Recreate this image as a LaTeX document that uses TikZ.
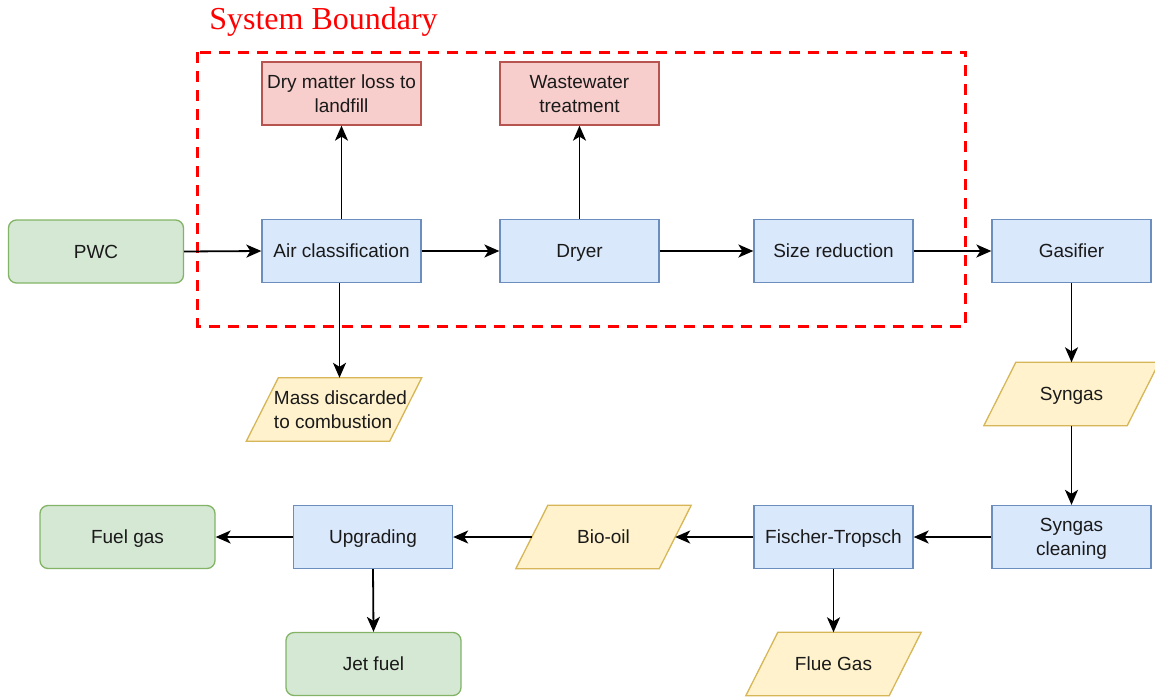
\documentclass[tikz,border=0pt]{standalone}
\usepackage{fontspec}
\setmainfont{Liberation Sans}
\newfontfamily\boundaryfont{Liberation Serif}
\usetikzlibrary{arrows.meta,backgrounds}

\definecolor{procFill}{HTML}{DAE8FC}
\definecolor{procLine}{HTML}{6C8EBF}
\definecolor{lossFill}{HTML}{F8CECC}
\definecolor{lossLine}{HTML}{B85450}
\definecolor{prodFill}{HTML}{D5E8D4}
\definecolor{prodLine}{HTML}{82B366}
\definecolor{dataFill}{HTML}{FFF2CC}
\definecolor{dataLine}{HTML}{D6B656}
\definecolor{inkText}{HTML}{1A1A1A}

% labels get fixed struts so every line sits on the same baseline
\newcommand{\lbl}[1]{\rule{0pt}{18.7pt}#1\rule[-5.3pt]{0pt}{5.3pt}}

\begin{document}
\begin{tikzpicture}[x=1pt,y=-1pt,
  label font/.style={font=\fontsize{19}{24}\selectfont, text=inkText},
  process/.style={label font, draw=procLine, fill=procFill, line width=1.3pt,
    minimum width=159pt, minimum height=63pt, inner sep=0pt, align=center},
  loss/.style={process, draw=lossLine, fill=lossFill},
  product/.style={label font, draw=prodLine, fill=prodFill, line width=1.3pt,
    rounded corners=8pt, minimum width=175pt, minimum height=63pt, inner sep=0pt, align=center},
  % core of a parallelogram: the slanted sides pass through its east/west anchors
  iocore/.style={label font, minimum width=143pt, minimum height=63pt, inner sep=0pt, align=center},
  iobox/.style={draw=dataLine, fill=dataFill, line width=1.3pt, line join=miter},
  flow/.style={line width=1.8pt, -{Stealth[length=15pt, width=13pt, inset=4pt]}},
  boundary/.style={draw=red, line width=3pt, dash pattern=on 11pt off 8pt}
]
\useasboundingbox (0,0) rectangle (1155,696);

% system boundary
\draw[boundary] (197.5,52) rectangle (965.5,326);
\node[anchor=base, text=red, font=\boundaryfont\fontsize{32}{36}\selectfont]
  (sbtitle) at (323.5,29) {System Boundary};

% main line
\node[product] (pwc)   at (96,251.5)   {\lbl{PWC}};
\node[process] (air)   at (341.5,251)  {\lbl{Air classification}};
\node[process] (dryer) at (579.5,251)  {\lbl{Dryer}};
\node[process] (size)  at (833.5,251)  {\lbl{Size reduction}};
\node[process] (gasif) at (1071.5,251) {\lbl{Gasifier}};

% losses inside the boundary
\node[loss] (landfill) at (341.5,93.5) {\lbl{Dry matter loss to\\landfill}};
\node[loss] (waste)    at (579.5,93.5) {\lbl{Wastewater\\treatment}};

% parallelogram streams
\node[iocore] (mass)   at (334,409.5)  {};
\node[label font, align=left, inner sep=0pt] (masstext) at (340.5,409.5) {\lbl{Mass discarded\\to combustion}};
\node[iocore] (syngas) at (1071.5,394) {\lbl{Syngas}};
\node[iocore] (biooil) at (603.5,537)  {\lbl{Bio-oil}};
\node[iocore] (flue)   at (833.5,664)  {\lbl{Flue Gas}};

\begin{scope}[on background layer]
  \foreach \n in {mass,syngas,biooil,flue}{
    \draw[iobox] ([xshift=-16pt]\n.south west) -- ([xshift=-16pt]\n.south east)
      -- ([xshift=16pt]\n.north east) -- ([xshift=16pt]\n.north west) -- cycle;
  }
\end{scope}

% lower line
\node[process] (clean)   at (1071.5,537) {\lbl{Syngas\\cleaning}};
\node[process] (ft)      at (833.5,537)  {\lbl{Fischer-Tropsch}};
\node[process] (upgrade) at (373,537)    {\lbl{Upgrading}};
\node[product] (fuelgas) at (127.5,537)  {\lbl{Fuel gas}};
\node[product] (jet)     at (373.5,664)  {\lbl{Jet fuel}};

% connectors
\draw[flow] (pwc.east) -- (air.west);
\draw[flow] (air.east) -- (dryer.west);
\draw[flow] (dryer.east) -- (size.west);
\draw[flow] (size.east) -- (gasif.west);
\draw[flow] (air.north) -- (landfill.south);
\draw[flow] (dryer.north) -- (waste.south);
\draw[flow] ([xshift=-2pt]air.south) -- ([xshift=-2pt]air.south |- mass.north);
\draw[flow] (gasif.south) -- (syngas.north);
\draw[flow] (syngas.south) -- (clean.north);
\draw[flow] (clean.west) -- (ft.east);
\draw[flow] (ft.west) -- (biooil.east);
\draw[flow] (biooil.west) -- (upgrade.east);
\draw[flow] (upgrade.west) -- (fuelgas.east);
\draw[flow] (upgrade.south) -- (jet.north);
\draw[flow] (ft.south) -- (flue.north);
\end{tikzpicture}
\end{document}
